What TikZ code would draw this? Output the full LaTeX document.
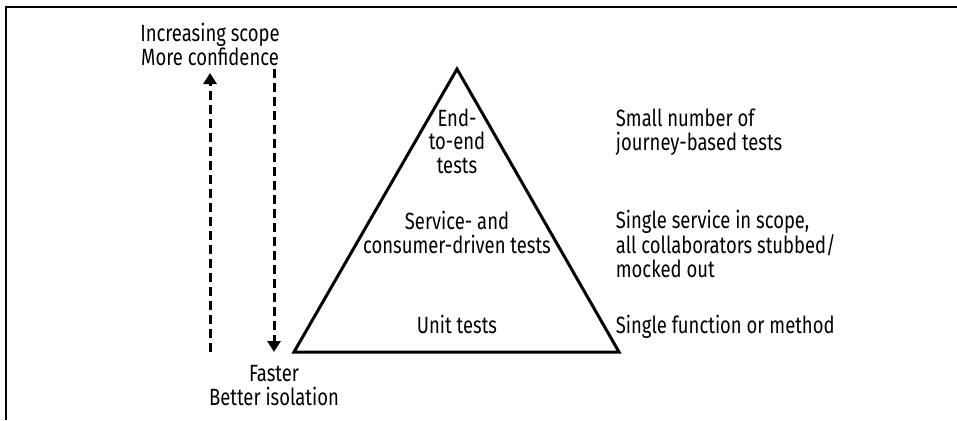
\documentclass[tikz,border=0pt]{standalone}
\usepackage{fontspec}
\setmainfont{Fira Sans}[FakeStretch=0.785]
\usetikzlibrary{arrows.meta}

\begin{document}
\begin{tikzpicture}[x=1pt, y=-1pt,
    label text/.style={font=\fontsize{23.5}{23.2}\selectfont, inner sep=0pt},
    scope arrow/.style={line width=3pt, dash pattern=on 9pt off 5pt,
        -{Triangle[width=13pt, length=11pt]}},
]
    \useasboundingbox (0,0) rectangle (957,420);

    % Frame (top and left edges only)
    \draw[line width=2pt] (957,7) -- (6,7) -- (6,420);

    % Pyramid
    \coordinate (apex) at (457,69);
    \coordinate (baseL) at (294,352);
    \coordinate (baseR) at (619,352);
    \draw[line width=3pt, line join=miter] (baseL) -- (apex) -- (baseR) -- cycle;

    % Layer labels (anchored at the baseline of the last line)
    \node[label text, align=center, anchor=base] (e2e) at (457,173) {End-\\to-end\\tests};
    \node[label text, align=center, anchor=base] (service) at (457,253) {Service- and\\consumer-driven tests};
    \node[label text, align=center, anchor=base] (unit) at (457,333) {Unit tests};

    % Layer notes
    \node[label text, align=left, anchor=base west] (e2enote) at (615.7,150) {Small number of\\journey-based tests};
    \node[label text, align=left, anchor=base west] (servicenote) at (615.7,277) {Single service in scope,\\all collaborators stubbed/\\mocked out};
    \node[label text, align=left, anchor=base west] (unitnote) at (615.7,333) {Single function or method};

    % Scope arrows
    \node[label text, align=center, anchor=base] (scope) at (210,65) {Increasing scope\\More confidence};
    \node[label text, align=center, anchor=base] (isolation) at (274,405) {Faster\\Better isolation};
    \coordinate (upStart) at (210,352);
    \coordinate (upEnd) at (210,73);
    \coordinate (downStart) at (274,69);
    \coordinate (downEnd) at (274,352);
    \draw[scope arrow] (upStart) -- (upEnd);
    \draw[scope arrow] (downStart) -- (downEnd);

\end{tikzpicture}
\end{document}
